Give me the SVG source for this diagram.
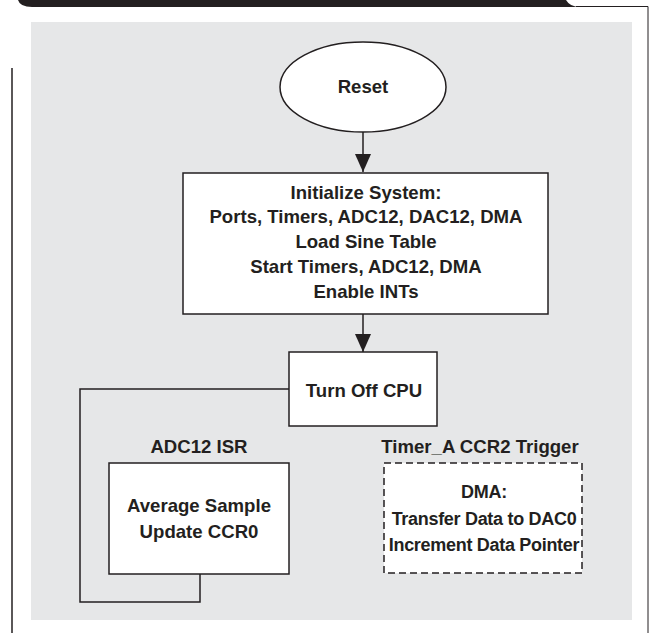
<svg xmlns="http://www.w3.org/2000/svg" width="650" height="633" viewBox="0 0 650 633">
<style>
.t{font-family:"Liberation Sans",Arial,sans-serif;font-weight:bold;font-size:18.6px;fill:#231f20;text-anchor:middle}
.s{font-size:18px;letter-spacing:-0.3px}
.box{fill:#fff;stroke:#231f20;stroke-width:1.5}
.ln{fill:none;stroke:#231f20;stroke-width:1.5}
</style>
<defs>
<marker id="ah" viewBox="0 0 18 16" refX="18" refY="8" markerWidth="18" markerHeight="16" markerUnits="userSpaceOnUse" orient="auto">
<path d="M0,0 L18,8 L0,16 Z" fill="#231f20"/>
</marker>
</defs>
<g id="frame">
<path d="M18,0 L566,0 Q570,7 580,7 L32,7 Q20,7 18,0 Z" fill="#231f20"/>
<path d="M576,6.5 L648,6.5 L648,633" fill="none" stroke="#231f20" stroke-width="1"/>
<line x1="12" y1="68" x2="12" y2="633" class="ln"/>
<rect x="31" y="22" width="601" height="598" fill="#e6e7e8"/>
</g>
<g id="connectors">
<line x1="363" y1="132" x2="363" y2="172" class="ln" marker-end="url(#ah)"/>
<line x1="363" y1="314" x2="363" y2="352" class="ln" marker-end="url(#ah)"/>
<polyline points="200,574 200,602 80,602 80,389 289,389" class="ln"/>
</g>
<g id="reset">
<ellipse cx="363" cy="87" rx="83" ry="45" class="box"/>
<text x="363" y="93" class="t">Reset</text>
</g>
<g id="init">
<rect x="183" y="173" width="365" height="141" class="box"/>
<text x="366" y="199" class="t">Initialize System:</text>
<text x="366" y="223" class="t">Ports, Timers, ADC12, DAC12, DMA</text>
<text x="366" y="248" class="t">Load Sine Table</text>
<text x="366" y="273" class="t">Start Timers, ADC12, DMA</text>
<text x="366" y="298" class="t">Enable INTs</text>
</g>
<g id="cpu">
<rect x="289" y="352" width="148" height="74" class="box"/>
<text x="364" y="397" class="t">Turn Off CPU</text>
</g>
<g id="adc">
<text x="199" y="453" class="t">ADC12 ISR</text>
<rect x="109" y="463" width="180" height="111" class="box"/>
<text x="199" y="512" class="t">Average Sample</text>
<text x="199" y="538" class="t">Update CCR0</text>
</g>
<g id="dma">
<text x="480" y="453" class="t">Timer_A CCR2 Trigger</text>
<rect x="384" y="463" width="198" height="110" class="box" stroke-dasharray="7,4"/>
<text x="484" y="498" class="t s">DMA:</text>
<text x="484" y="525" class="t s">Transfer Data to DAC0</text>
<text x="484" y="551" class="t s">Increment Data Pointer</text>
</g>
</svg>
